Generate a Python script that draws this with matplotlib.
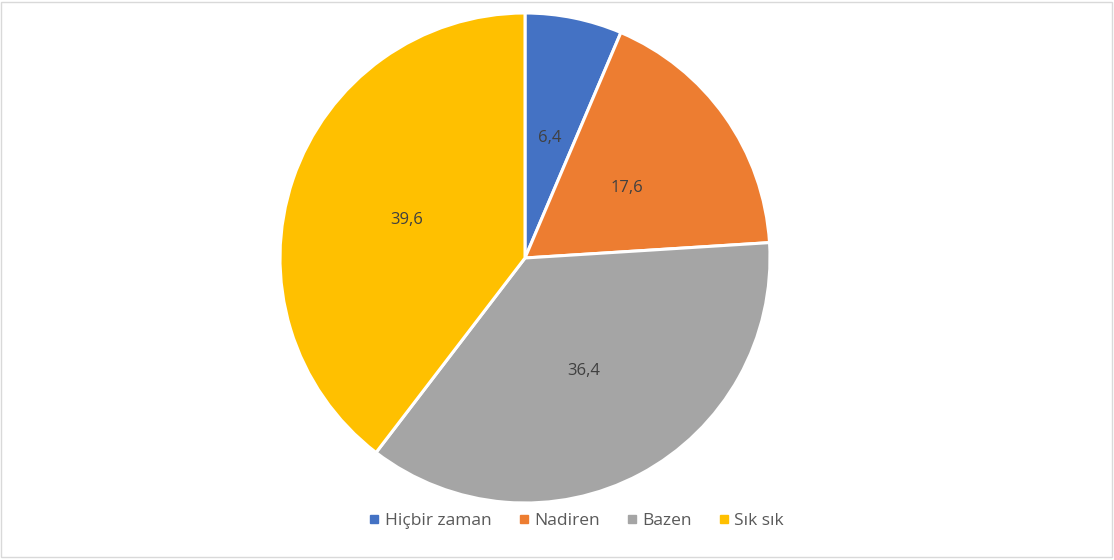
import matplotlib.pyplot as plt
from matplotlib.patches import Rectangle
from matplotlib.lines import Line2D
import numpy as np

categories = ['Hiçbir zaman', 'Nadiren', 'Bazen', 'Sık sık']
values = [6.4, 17.6, 36.4, 39.6]
colors = ['#4472c4', '#ed7d31', '#a5a5a5', '#ffc000']

plt.rcParams['font.family'] = ['Open Sans', 'DejaVu Sans']

W, H = 1114, 560
fig = plt.figure(figsize=(W / 100, H / 100), dpi=100)
fig.patch.set_facecolor('white')

cx, cy, r = 525, 258, 245
ax = fig.add_axes([(cx - r) / W, (H - cy - r) / H, 2 * r / W, 2 * r / H])
wedges, texts = ax.pie(values, colors=colors, startangle=90, counterclock=False,
                       radius=1, wedgeprops=dict(edgecolor='white', linewidth=2.2))
ax.set_xlim(-1, 1)
ax.set_ylim(-1, 1)
ax.set_aspect('equal')
ax.axis('off')

start = 90
for v in values:
    ang = np.deg2rad(start - v / 100 * 360 / 2)
    ax.text(0.51 * np.cos(ang), 0.51 * np.sin(ang) - 0.01, str(v).replace('.', ','),
            ha='center', va='center', fontsize=12, color='#404040')
    start -= v / 100 * 360

handles = [Line2D([], [], marker='s', linestyle='', markersize=5.5, color=c) for c in colors]
fig.legend(handles, categories, loc='center', bbox_to_anchor=(576 / W, 1 - 521 / H),
           ncol=4, frameon=False, fontsize=12.5, labelcolor='#595959',
           handletextpad=0.25, columnspacing=1.5, handlelength=0.7)

fig.add_artist(Rectangle((0.5 / W, 3.5 / H), (W - 3) / W, (H - 5) / H, transform=fig.transFigure,
                         fill=False, edgecolor='#d9d9d9', linewidth=1))

fig.savefig('out.png', dpi=100)
